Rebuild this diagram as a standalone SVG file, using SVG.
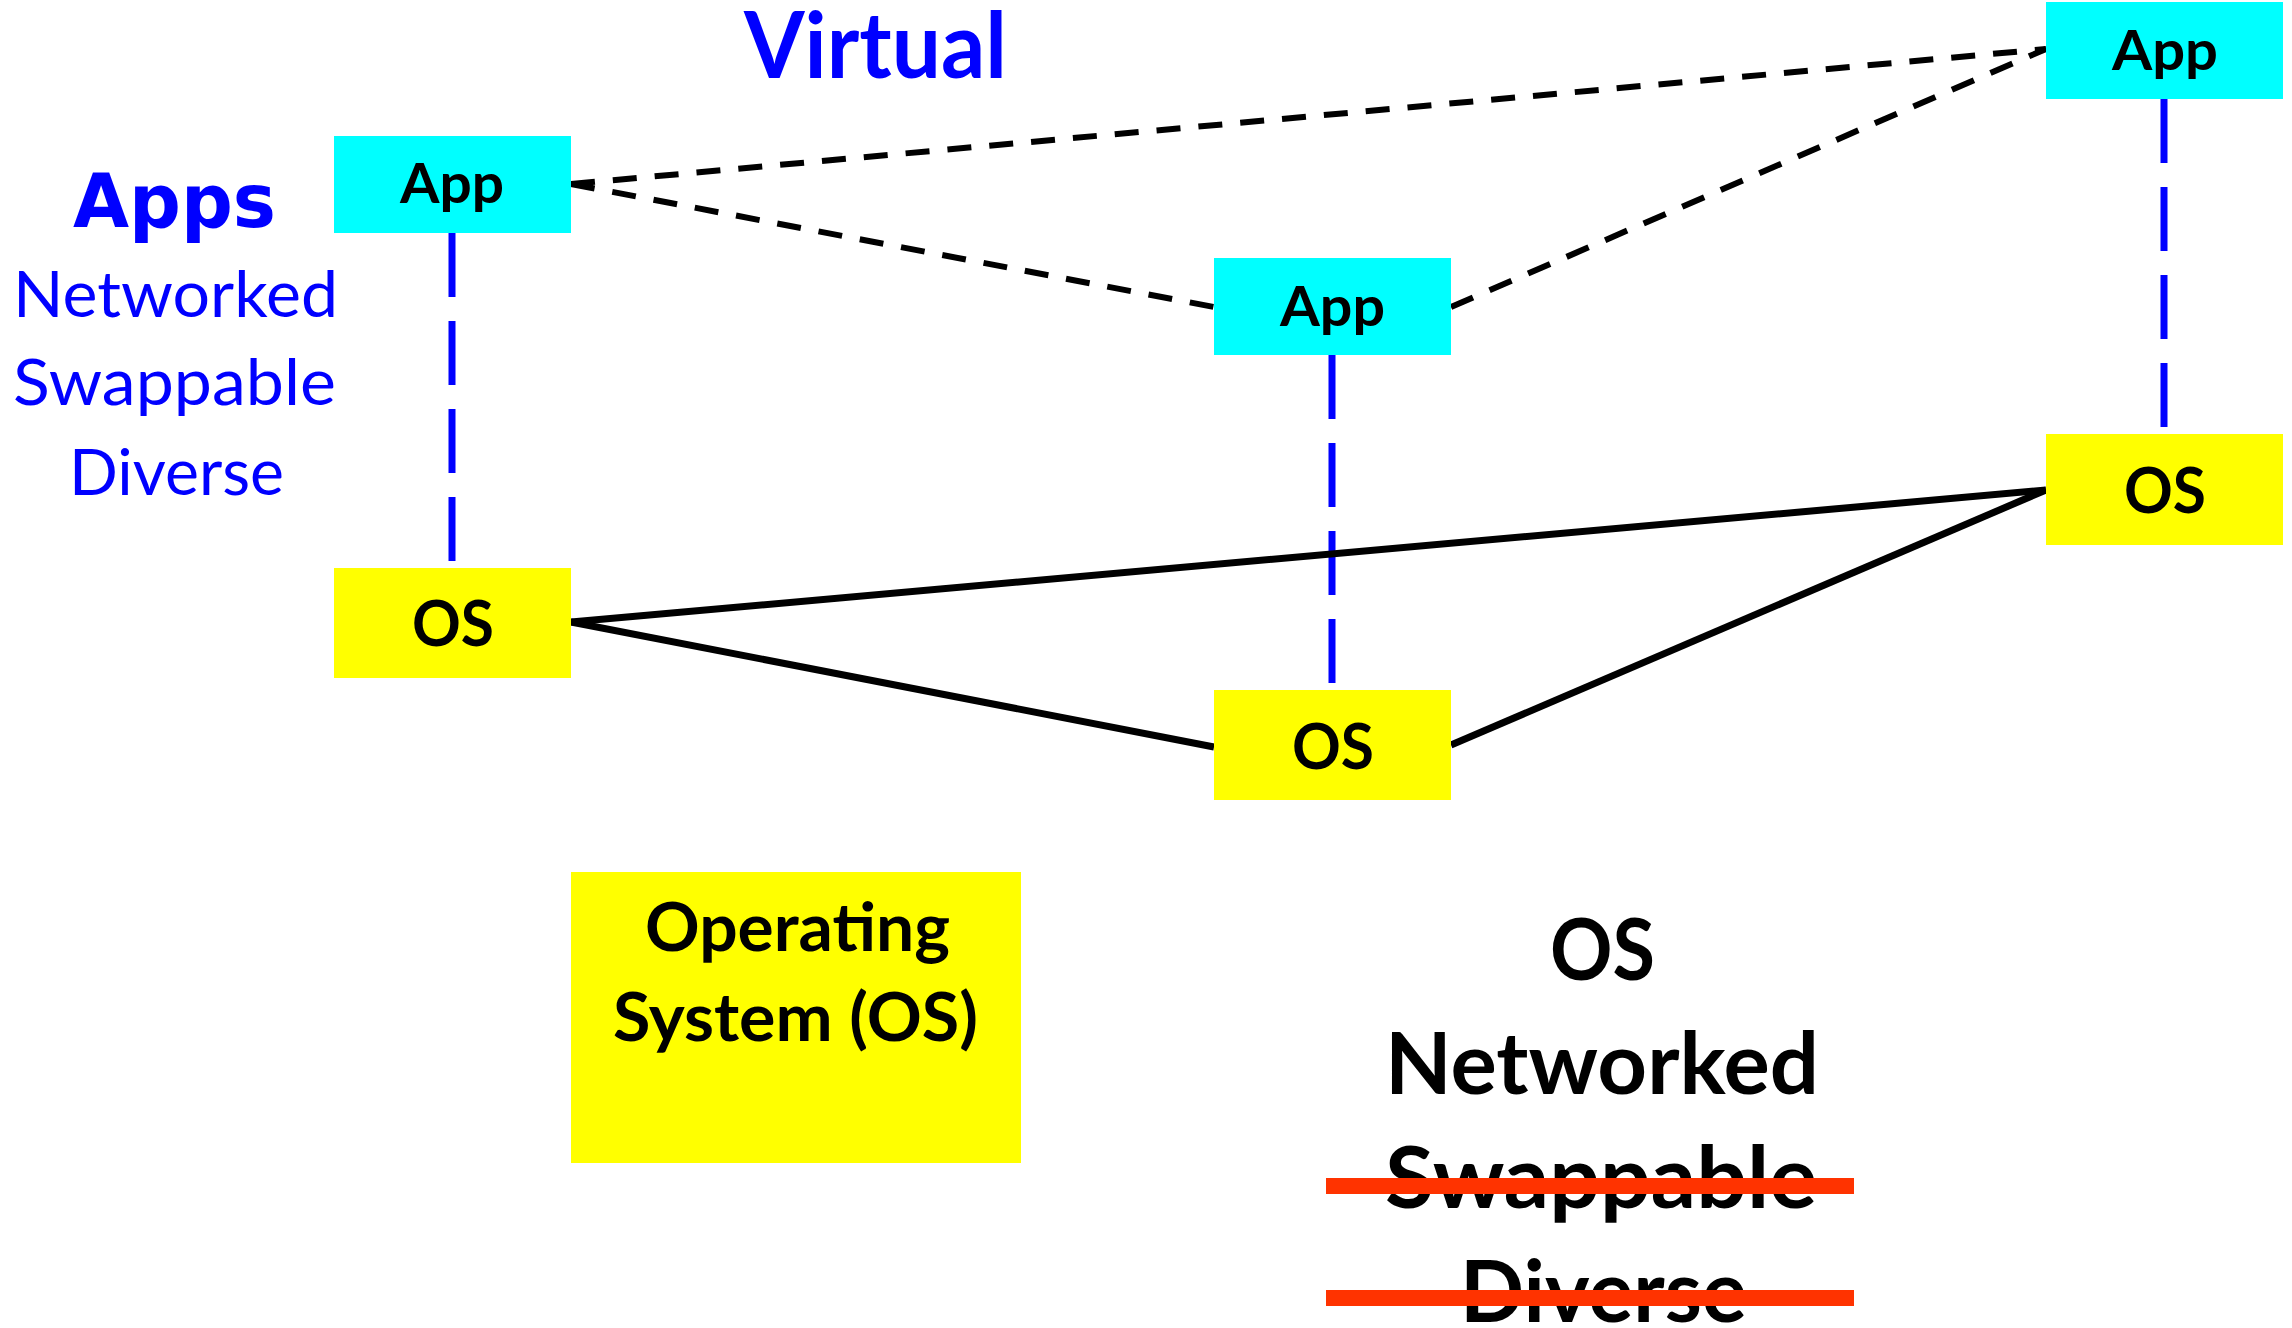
<svg xmlns="http://www.w3.org/2000/svg" width="2292" height="1328" viewBox="0 0 2292 1328">
<style>
.app{fill:#00FFFF}
.os{fill:#FFFF00}
.lbl{font-family:Lato,"Liberation Sans",sans-serif;font-weight:bold;fill:#000;text-anchor:middle}
.blue{font-family:Lato,"Liberation Sans",sans-serif;fill:#0000FF;text-anchor:middle}
.vdash{stroke:#0000FF;stroke-width:7;stroke-dasharray:64 24;fill:none}
.bdash{stroke:#000;stroke-width:6;stroke-dasharray:24 18;fill:none}
.solid{stroke:#000;stroke-width:7;fill:none}
.strike{stroke:#FF3300;stroke-width:16}
</style>
<rect width="2292" height="1328" fill="#fff"/>
<g id="connectors">
<line class="bdash" x1="571" y1="184" x2="2046" y2="49"/>
<line class="bdash" x1="571" y1="184" x2="1214" y2="307"/>
<line class="bdash" x1="1451" y1="307" x2="2046" y2="49"/>
<line class="vdash" x1="452" y1="233" x2="452" y2="561"/>
<line class="vdash" x1="1332" y1="355" x2="1332" y2="683"/>
<line class="vdash" x1="2164" y1="99" x2="2164" y2="427"/>
<line class="solid" x1="571" y1="622" x2="2046" y2="490"/>
<line class="solid" x1="571" y1="622" x2="1214" y2="747"/>
<line class="solid" x1="1451" y1="745" x2="2046" y2="490"/>
</g>
<g id="app1"><rect class="app" x="334" y="136" width="237" height="97"/><text class="lbl" x="452" y="203" font-size="56" textLength="104" lengthAdjust="spacingAndGlyphs">App</text></g>
<g id="app2"><rect class="app" x="1214" y="258" width="237" height="97"/><text class="lbl" x="1332.5" y="326" font-size="56" textLength="105" lengthAdjust="spacingAndGlyphs">App</text></g>
<g id="app3"><rect class="app" x="2046" y="2" width="237" height="97"/><text class="lbl" x="2165" y="70" font-size="56" textLength="106" lengthAdjust="spacingAndGlyphs">App</text></g>
<g id="os1"><rect class="os" x="334" y="568" width="237" height="110"/><text class="lbl" x="453" y="646" font-size="64" textLength="82" lengthAdjust="spacingAndGlyphs">OS</text></g>
<g id="os2"><rect class="os" x="1214" y="690" width="237" height="110"/><text class="lbl" x="1333" y="769" font-size="64" textLength="82" lengthAdjust="spacingAndGlyphs">OS</text></g>
<g id="os3"><rect class="os" x="2046" y="434" width="237" height="111"/><text class="lbl" x="2165" y="513" font-size="64" textLength="82" lengthAdjust="spacingAndGlyphs">OS</text></g>
<g id="osbox"><rect class="os" x="571" y="872" width="450" height="291"/>
<text class="lbl" x="797.5" y="951" font-size="67" textLength="305" lengthAdjust="spacingAndGlyphs">Operating</text>
<text class="lbl" x="795.5" y="1041" font-size="67" textLength="365" lengthAdjust="spacingAndGlyphs">System (OS)</text></g>
<g id="virtual"><text class="blue" x="875.5" y="78" font-size="91" font-weight="bold" textLength="263" lengthAdjust="spacingAndGlyphs">Virtual</text></g>
<g id="apps-list">
<text x="174.5" y="227" font-family="'DejaVu Sans',Verdana,sans-serif" font-weight="bold" font-size="75" fill="#0000FF" text-anchor="middle" textLength="203" lengthAdjust="spacingAndGlyphs">Apps</text>
<text class="blue" x="175.5" y="317" font-size="64" textLength="325" lengthAdjust="spacingAndGlyphs">Networked</text>
<text class="blue" x="174.5" y="405" font-size="64" textLength="323" lengthAdjust="spacingAndGlyphs">Swappable</text>
<text class="blue" x="176.5" y="495" font-size="64" textLength="215" lengthAdjust="spacingAndGlyphs">Diverse</text>
</g>
<g id="os-list">
<text class="lbl" x="1602.5" y="980" font-size="86" textLength="105" lengthAdjust="spacingAndGlyphs">OS</text>
<text class="lbl" x="1602" y="1094" font-size="86" textLength="434" lengthAdjust="spacingAndGlyphs">Networked</text>
<text class="lbl" x="1601" y="1208" font-size="86" textLength="432" lengthAdjust="spacingAndGlyphs">Swappable</text>
<text class="lbl" x="1603.5" y="1322" font-size="86" textLength="287" lengthAdjust="spacingAndGlyphs">Diverse</text>
<line class="strike" x1="1326" y1="1186" x2="1854" y2="1186"/>
<line class="strike" x1="1326" y1="1298" x2="1854" y2="1298"/>
</g>
</svg>
